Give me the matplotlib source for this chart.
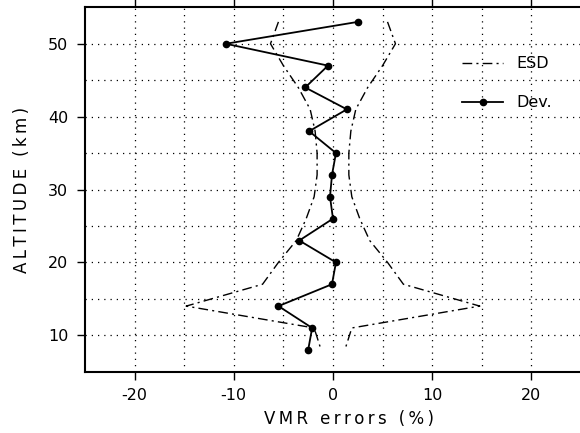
import numpy as np
import matplotlib
matplotlib.use("Agg")
import matplotlib.pyplot as plt

# altitude levels (km) and values
altitude = [53, 50, 47, 44, 41, 38, 35, 32, 29, 26, 23, 20, 17, 14, 11, 8]
dev = [2.5, -10.8, -0.5, -2.8, 1.4, -2.4, 0.3, -0.1, -0.3, 0.0, -3.4, 0.3, -0.1, -5.5, -2.1, -2.5]
esd = [5.5, 6.3, 5.0, 3.5, 2.3, 1.8, 1.6, 1.6, 1.9, 2.7, 3.7, 5.5, 7.1, 14.8, 1.9, 1.2]

x_ticks = [-20, -10, 0, 10, 20]
y_ticks = [10, 20, 30, 40, 50]

plt.rcParams['font.family'] = ['DejaVu Sans']
plt.rcParams['axes.unicode_minus'] = False

fig = plt.figure(figsize=(5.8, 4.33), dpi=100)
ax = fig.add_axes([0.1466, 0.1416, 0.855, 0.8415])

esd_arr = np.array(esd)
ax.plot(esd_arr, altitude, color='black', lw=1.0, dashes=(7, 3, 1.5, 3), label='ESD')
ax.plot(-esd_arr, altitude, color='black', lw=1.0, dashes=(7, 3, 1.5, 3))
ax.plot(dev, altitude, color='black', lw=1.3, marker='o', ms=4.5, label='Dev.')

ax.set_xlim(-25, 25)
ax.set_ylim(5, 55)
ax.set_xticks(x_ticks)
ax.set_yticks(y_ticks)
ax.set_xticks(np.arange(-20, 21, 5), minor=True)
ax.set_yticks(np.arange(10, 51, 5), minor=True)
ax.tick_params(which='minor', length=0)
ax.tick_params(which='major', direction='out', length=6, width=1, labelsize=11.5, pad=6)
ax.tick_params(axis='x', which='major', top=True)
ax.grid(which='both', color='black', linestyle=(0, (1, 4)), lw=0.9)

for side in ['left', 'bottom', 'top']:
    ax.spines[side].set_linewidth(1.5)
ax.spines['right'].set_visible(False)

sp = '\u2009'
ax.set_xlabel(sp.join('VMR errors (%)'), fontsize=12)
ax.xaxis.set_label_coords(0.532, -0.105)
ax.set_ylabel(sp.join('ALTITUDE (km)'), fontsize=12, labelpad=12)

leg = ax.legend(loc='upper right', bbox_to_anchor=(0.97, 0.905), frameon=False,
                fontsize=11.5, handlelength=2.6, labelspacing=1.5)

fig.savefig('out.png', dpi=100)
